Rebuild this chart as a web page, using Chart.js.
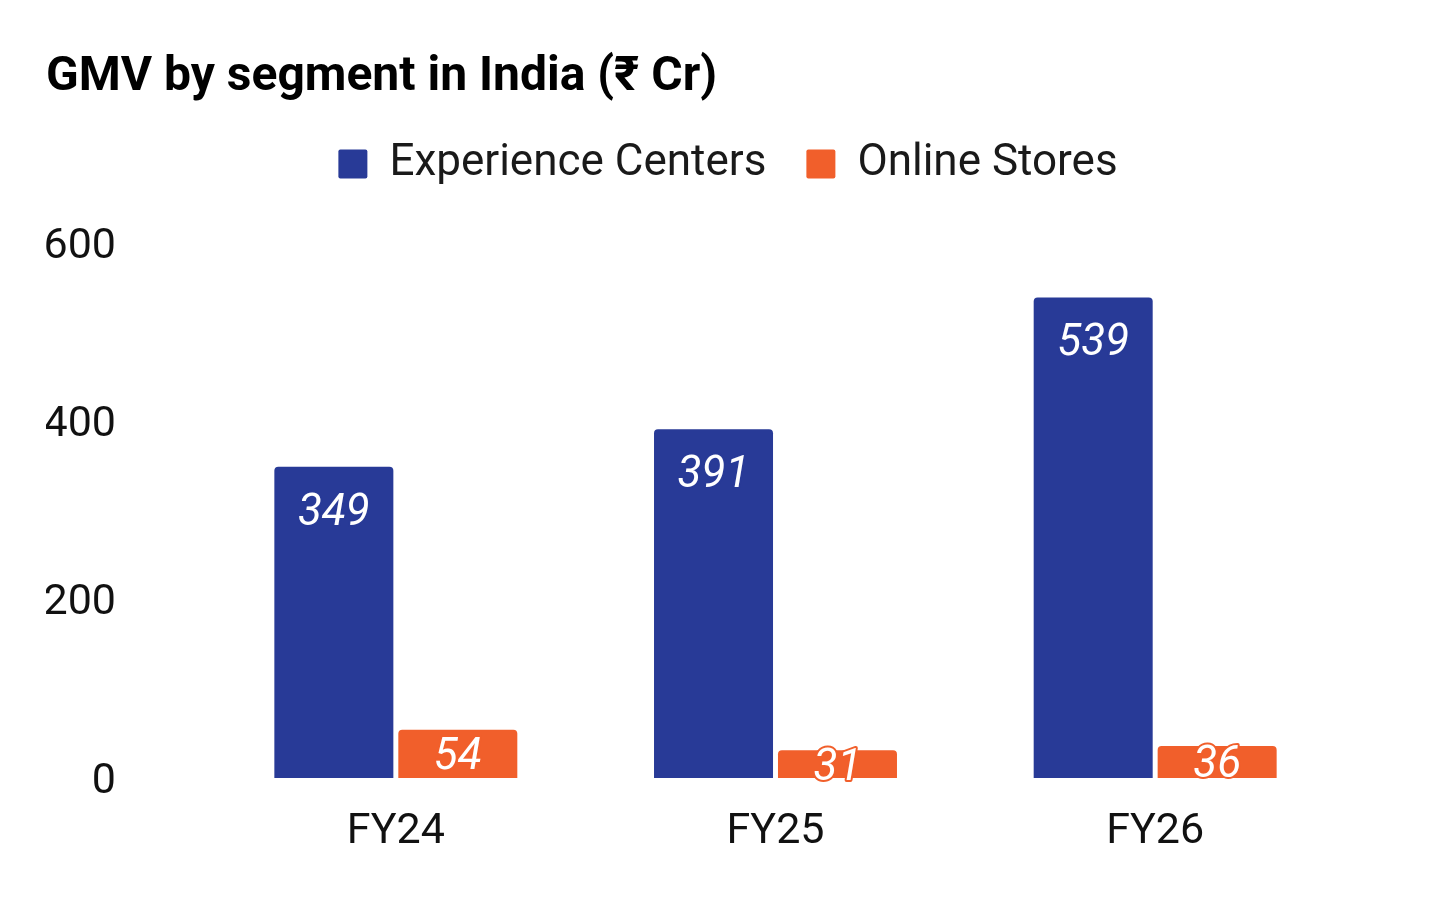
<!DOCTYPE html>
<html>
<head>
<meta charset="utf-8">
<script src="https://cdn.jsdelivr.net/npm/chart.js@4/dist/chart.umd.min.js"></script>
<style>
  html, body { margin: 0; padding: 0; background: #ffffff; }
  #wrap { width: 1456px; height: 900px; }
</style>
</head>
<body>
<div id="wrap"><canvas id="c" width="1456" height="900"></canvas></div>
<script>
const titleText = 'GMV by segment in India (₹ Cr)';
const categories = ['FY24', 'FY25', 'FY26'];
const seriesNames = ['Experience Centers', 'Online Stores'];
const experienceCenters = [349, 391, 539];
const onlineStores = [54, 31, 36];
const yTicks = [0, 200, 400, 600];

const BLUE = '#283a97';
const ORANGE = '#f15f2b';
const FONT = 'Roboto';

const valueLabels = {
  id: 'valueLabels',
  afterDatasetsDraw(chart) {
    const ctx = chart.ctx;
    chart.data.datasets.forEach((ds, i) => {
      const meta = chart.getDatasetMeta(i);
      meta.data.forEach((bar, j) => {
        const p = bar.getProps(['x', 'y', 'base'], true);
        const cy = Math.min(p.y + 42.5, (p.y + p.base) / 2) + 4.5;
        const text = String(ds.data[j]);
        ctx.save();
        ctx.font = 'italic 44px ' + FONT;
        ctx.textAlign = 'center';
        ctx.textBaseline = 'middle';
        ctx.lineJoin = 'round';
        ctx.lineWidth = 4;
        ctx.strokeStyle = ds.backgroundColor;
        ctx.strokeText(text, p.x, cy);
        ctx.fillStyle = '#ffffff';
        ctx.fillText(text, p.x, cy);
        ctx.restore();
      });
    });
  }
};

new Chart(document.getElementById('c'), {
  type: 'bar',
  data: {
    labels: categories,
    datasets: [
      { label: seriesNames[0], data: experienceCenters, backgroundColor: BLUE, borderRadius: 4,
        categoryPercentage: 0.653, barPercentage: 0.96 },
      { label: seriesNames[1], data: onlineStores, backgroundColor: ORANGE, borderRadius: 4,
        categoryPercentage: 0.653, barPercentage: 0.96 }
    ]
  },
  options: {
    responsive: false,
    animation: false,
    devicePixelRatio: 1,
    layout: { padding: { left: 46, right: 46, top: 0, bottom: 0 } },
    plugins: {
      title: {
        display: true,
        text: titleText,
        align: 'start',
        color: '#000000',
        font: { family: FONT, size: 48, weight: 'bold', lineHeight: 1.0 },
        padding: { top: 54, bottom: 0 }
      },
      legend: {
        display: true,
        position: 'top',
        labels: {
          color: '#1a1a1a',
          font: { family: FONT, size: 44 },
          boxWidth: 29,
          boxHeight: 29,
          padding: 40,
          useBorderRadius: true,
          borderRadius: 2
        }
      },
      subtitle: {
        display: true,
        text: '',
        weight: 0,
        position: 'top',
        font: { family: FONT, size: 1, lineHeight: 1 },
        padding: { top: 46, bottom: 0 }
      },
      tooltip: { enabled: false }
    },
    scales: {
      x: {
        grid: { display: false, drawTicks: false },
        border: { display: false },
        ticks: { color: '#111111', font: { family: FONT, size: 43 }, padding: 28 },
        afterFit(s) { s.height = 122; }
      },
      y: {
        min: 0,
        max: 600,
        grid: { display: false, drawTicks: false },
        border: { display: false },
        ticks: { color: '#111111', font: { family: FONT, size: 43 }, padding: 90, stepSize: 200, labelOffset: 4 },
        afterBuildTicks(s) { s.ticks = yTicks.map(v => ({ value: v })); },
        afterFit(s) { s.width = 160; }
      },
      yR: {
        type: 'linear',
        axis: 'y',
        position: 'right',
        display: true,
        grid: { display: false, drawTicks: false },
        border: { display: false },
        ticks: { display: false },
        afterFit(s) { s.width = 65; }
      }
    }
  },
  plugins: [valueLabels]
});
</script>
</body>
</html>
